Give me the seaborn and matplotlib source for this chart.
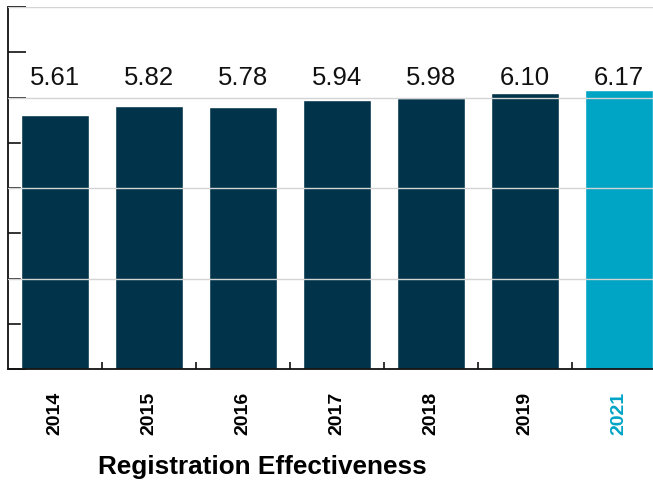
import matplotlib
matplotlib.use('Agg')
import matplotlib.pyplot as plt
from matplotlib.ticker import FixedLocator, NullFormatter
import seaborn as sns
import pandas as pd

# データ
years = ['2014', '2015', '2016', '2017', '2018', '2019', '2021']
scores = [5.61, 5.82, 5.78, 5.94, 5.98, 6.10, 6.17]
labels = ['5.61', '5.82', '5.78', '5.94', '5.98', '6.10', '6.17']
title = 'Registration Effectiveness'

dark = '#01344a'
accent = '#00a4c5'
colors = [dark] * 6 + [accent]

sns.set_style('white')
plt.rcParams['font.family'] = ['Liberation Sans', 'DejaVu Sans']

df = pd.DataFrame({'year': years, 'score': scores})

fig = plt.figure(figsize=(6.53, 4.85), dpi=100)
ax = fig.add_axes([8 / 653, 115 / 485, 645 / 653, 362 / 485])

sns.barplot(data=df, x='year', y='score', hue='year', palette=colors,
            width=0.72, legend=False, saturation=1, ax=ax, zorder=1)

ax.set_ylim(0, 8)
ax.set_xlim(-0.5, 6.36)

# グリッド線（棒の上に描く）
for g in [2, 4, 6, 8]:
    ax.axhline(g, color='#d4d4d4', lw=1.0, zorder=3)

# y軸: 目盛りのみ
ax.set_yticks(range(0, 9))
ax.yaxis.set_major_formatter(NullFormatter())
ax.tick_params(axis='y', direction='in', length=13, width=1.2, color='#111111', left=True)

# x軸: 棒の間に小さな目盛り
ax.xaxis.set_minor_locator(FixedLocator([0.5, 1.5, 2.5, 3.5, 4.5, 5.5]))
ax.tick_params(axis='x', which='minor', direction='in', length=5, width=1.2,
               color='#111111', bottom=True)
ax.tick_params(axis='x', which='major', length=0, pad=16)
ax.set_axisbelow(True)

for lab in ax.get_xticklabels():
    lab.set_rotation(90)
    lab.set_fontweight('bold')
    lab.set_fontsize(14)
    lab.set_color('black')
    lab.set_va('top')
ax.get_xticklabels()[-1].set_color(accent)

# 値ラベル（固定の高さ）
for i, t in enumerate(labels):
    ax.text(i, 6.30, t, ha='center', va='baseline', fontsize=18.5, color='#111111')

sns.despine(ax=ax, top=True, right=True)
for s in ['left', 'bottom']:
    ax.spines[s].set_color('#111111')
    ax.spines[s].set_linewidth(1.3)

ax.set_ylabel('')
ax.set_xlabel(title, fontsize=18.8, fontweight='bold', color='black')
ax.xaxis.set_label_coords((262 - 8) / 645, -0.236)
ax.xaxis.label.set_va('top')

fig.savefig('out.png', dpi=100)
